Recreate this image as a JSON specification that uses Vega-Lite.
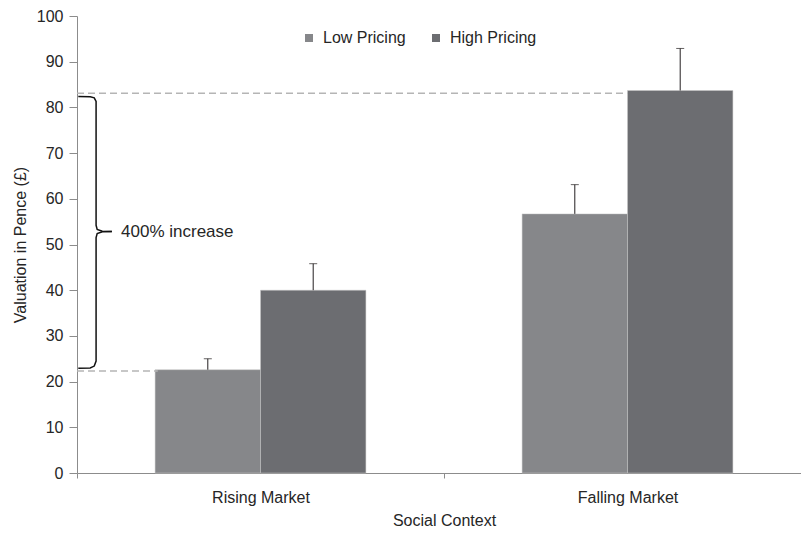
{
  "$schema": "https://vega.github.io/schema/vega-lite/v6.json",
  "width": 724,
  "height": 457,
  "autosize": {"type": "none"},
  "padding": {"left": 77, "top": 16, "right": 0, "bottom": 62},
  "config": {
    "font": "Liberation Sans",
    "view": {"stroke": null},
    "axis": {"grid": false, "domainColor": "#8c8c8c", "tickColor": "#8c8c8c", "labelColor": "#262626", "titleColor": "#262626", "labelFontSize": 16, "titleFontSize": 16, "titleFontWeight": "normal"}
  },
  "datasets": {
    "bars": [
      {"market": "Rising Market", "pricing": "Low Pricing", "v": 22.6, "hi": 25.0},
      {"market": "Rising Market", "pricing": "High Pricing", "v": 40.0, "hi": 45.8},
      {"market": "Falling Market", "pricing": "Low Pricing", "v": 56.7, "hi": 63.1},
      {"market": "Falling Market", "pricing": "High Pricing", "v": 83.7, "hi": 92.9}
    ],
    "dashes": [
      {"x0": 0, "x1": 1.5, "v": 83.1},
      {"x0": 0, "x1": 0.22, "v": 22.3}
    ],
    "brace": [
      {"part": "a", "i": 0, "x": 0.0035, "v": 82.4},
      {"part": "a", "i": 1, "x": 0.036, "v": 82.35},
      {"part": "a", "i": 2, "x": 0.047, "v": 82.1},
      {"part": "a", "i": 3, "x": 0.052, "v": 81.3},
      {"part": "a", "i": 4, "x": 0.052, "v": 54.2},
      {"part": "a", "i": 5, "x": 0.055, "v": 53.3},
      {"part": "a", "i": 6, "x": 0.069, "v": 52.9},
      {"part": "a", "i": 7, "x": 0.095, "v": 52.85},
      {"part": "b", "i": 0, "x": 0.095, "v": 52.85},
      {"part": "b", "i": 1, "x": 0.069, "v": 52.8},
      {"part": "b", "i": 2, "x": 0.055, "v": 52.4},
      {"part": "b", "i": 3, "x": 0.052, "v": 51.5},
      {"part": "b", "i": 4, "x": 0.052, "v": 24.5},
      {"part": "b", "i": 5, "x": 0.047, "v": 23.4},
      {"part": "b", "i": 6, "x": 0.036, "v": 23.0},
      {"part": "b", "i": 7, "x": 0.0035, "v": 22.9}
    ],
    "notes": [
      {"x": 0.12, "v": 52.8, "label": "400% increase"}
    ]
  },
  "layer": [
    {
      "data": {"name": "bars"},
      "encoding": {
        "x": {"field": "market", "type": "nominal", "sort": ["Rising Market", "Falling Market"],
          "scale": {"range": [0, 734], "paddingInner": 0, "paddingOuter": 0},
          "axis": {"title": "Social Context", "labelAngle": 0, "tickBand": "extent", "tickSize": 5, "labelPadding": 11, "titlePadding": 7}},
        "xOffset": {"field": "pricing", "type": "nominal", "sort": ["Low Pricing", "High Pricing"],
          "scale": {"paddingInner": 0, "paddingOuter": 0.741}}
      },
      "layer": [
        {
          "mark": {"type": "bar", "stroke": "#c8c8c8", "strokeWidth": 0.5},
          "encoding": {
            "y": {"field": "v", "type": "quantitative", "title": "Valuation in Pence (£)",
              "scale": {"domain": [0, 100], "nice": false},
              "axis": {"values": [0, 10, 20, 30, 40, 50, 60, 70, 80, 90, 100], "tickSize": 8, "labelPadding": 6, "titlePadding": 8}},
            "color": {"field": "pricing", "type": "nominal", "sort": ["Low Pricing", "High Pricing"],
              "scale": {"domain": ["Low Pricing", "High Pricing"], "range": ["#86878a", "#6c6d71"]},
              "legend": {"title": null, "orient": "none", "direction": "horizontal", "legendX": 224, "legendY": 14,
                "symbolType": "square", "symbolSize": 64, "symbolStrokeWidth": 0, "labelFontSize": 16, "labelColor": "#262626", "labelOffset": 6, "columnPadding": 22}}
          }
        },
        {
          "mark": {"type": "rule", "color": "#231f20", "strokeWidth": 1},
          "encoding": {
            "y": {"field": "v", "type": "quantitative", "title": "Valuation in Pence (£)"},
            "y2": {"field": "hi"}
          }
        },
        {
          "mark": {"type": "tick", "color": "#231f20", "thickness": 1, "size": 8, "orient": "horizontal"},
          "encoding": {
            "y": {"field": "hi", "type": "quantitative", "title": "Valuation in Pence (£)"}
          }
        }
      ]
    },
    {
      "layer": [
        {
          "data": {"name": "dashes"},
          "mark": {"type": "rule", "color": "#b5b5b5", "strokeWidth": 1.5, "strokeDash": [7, 4]},
          "encoding": {
            "x": {"field": "x0", "type": "quantitative", "scale": {"domain": [0, 2], "range": [0, 734], "nice": false, "zero": false}, "axis": null},
            "x2": {"field": "x1"},
            "y": {"field": "v", "type": "quantitative", "title": "Valuation in Pence (£)"}
          }
        },
        {
          "data": {"name": "brace"},
          "mark": {"type": "line", "color": "#111111", "strokeWidth": 1.5},
          "encoding": {
            "x": {"field": "x", "type": "quantitative", "axis": null},
            "y": {"field": "v", "type": "quantitative", "title": "Valuation in Pence (£)"},
            "detail": {"field": "part", "type": "nominal"},
            "order": {"field": "i", "type": "quantitative"}
          }
        },
        {
          "data": {"name": "notes"},
          "mark": {"type": "text", "align": "left", "baseline": "middle", "fontSize": 17, "color": "#262626"},
          "encoding": {
            "x": {"field": "x", "type": "quantitative", "axis": null},
            "y": {"field": "v", "type": "quantitative", "title": "Valuation in Pence (£)"},
            "text": {"field": "label", "type": "nominal"}
          }
        }
      ]
    }
  ],
  "resolve": {"scale": {"x": "independent"}, "axis": {"x": "independent"}}
}
